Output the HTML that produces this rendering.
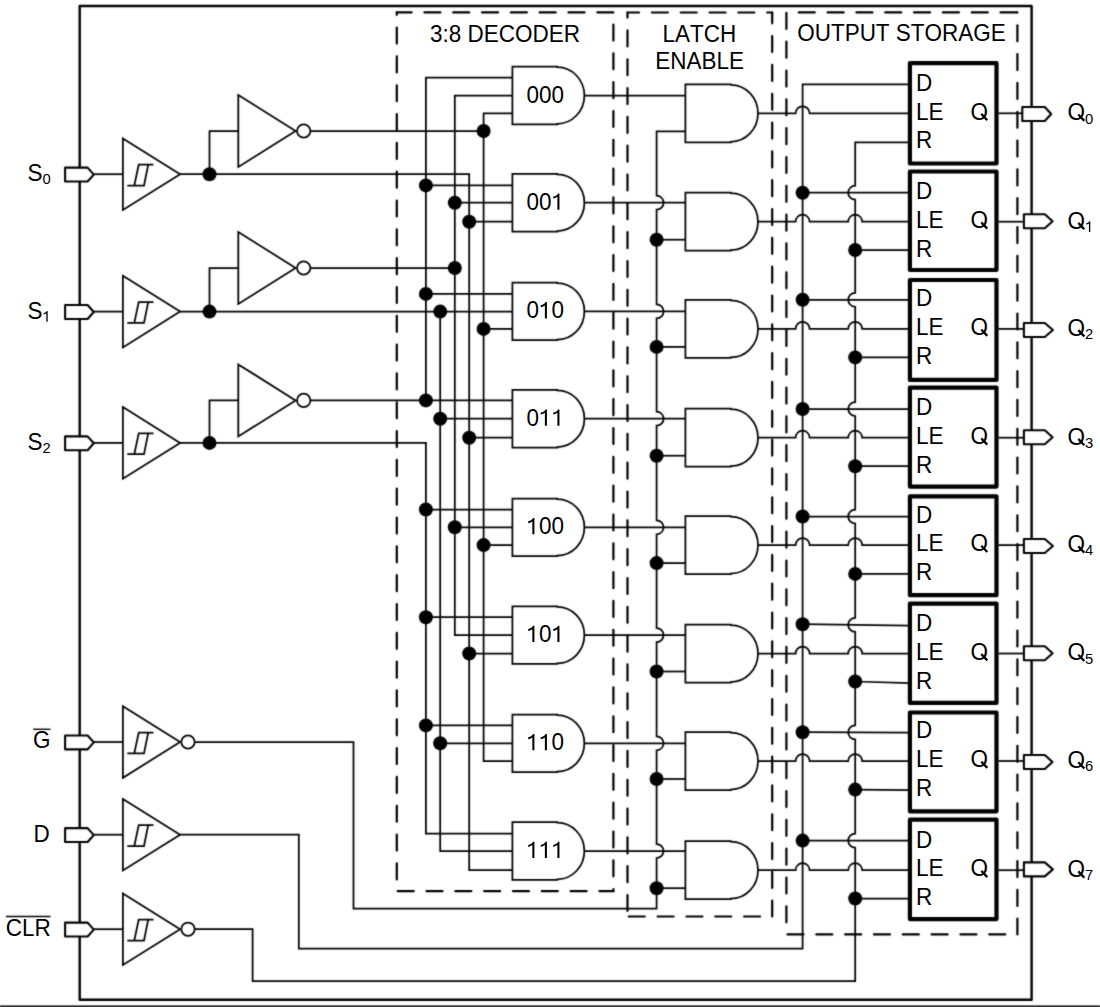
<!DOCTYPE html>
<html><head><meta charset="utf-8"><style>
html,body{margin:0;padding:0;background:#fff;}
svg{display:block;}
.t{font-family:"Liberation Sans",sans-serif;font-size:22.5px;fill:#000;stroke:none;font-kerning:none;}
.sub{font-size:14.8px;}
</style></head><body>
<svg width="1100" height="1007" viewBox="0 0 1100 1007" stroke="#000" stroke-width="1.75" fill="none" stroke-linecap="butt">
<defs><filter id="bl" x="0" y="0" width="1100" height="1007" filterUnits="userSpaceOnUse" color-interpolation-filters="sRGB"><feConvolveMatrix order="3" kernelMatrix="0.0225 0.1050 0.0225 0.1050 0.4900 0.1050 0.0225 0.1050 0.0225" edgeMode="none" preserveAlpha="false"/></filter></defs>
<g filter="url(#bl)">
<rect x="79.7" y="5.95" width="951.9" height="993.85" fill="none" stroke-width="2.4" stroke-linejoin="round"/>
<line x1="0.00" y1="1006.40" x2="1100.00" y2="1006.40" stroke-width="1.6"/>
<line x1="396.80" y1="12.40" x2="613.40" y2="12.40" stroke-width="2.2" stroke-linecap="round" stroke-dasharray="16.00 12.82" stroke-dashoffset="1.20"/>
<line x1="613.40" y1="12.40" x2="613.40" y2="891.20" stroke-width="2.2" stroke-linecap="round" stroke-dasharray="16.00 12.82" stroke-dashoffset="16.67"/>
<line x1="396.80" y1="891.20" x2="613.40" y2="891.20" stroke-width="2.2" stroke-linecap="round" stroke-dasharray="16.00 12.82" stroke-dashoffset="27.92"/>
<line x1="396.80" y1="12.40" x2="396.80" y2="891.20" stroke-width="2.2" stroke-linecap="round" stroke-dasharray="16.00 12.82" stroke-dashoffset="13.62"/>
<line x1="627.50" y1="12.50" x2="772.20" y2="12.50" stroke-width="2.2" stroke-linecap="round" stroke-dasharray="16.00 12.82" stroke-dashoffset="4.42"/>
<line x1="772.20" y1="12.50" x2="772.20" y2="916.50" stroke-width="2.2" stroke-linecap="round" stroke-dasharray="16.00 12.82" stroke-dashoffset="5.20"/>
<line x1="627.50" y1="916.50" x2="772.20" y2="916.50" stroke-width="2.2" stroke-linecap="round" stroke-dasharray="16.00 12.82" stroke-dashoffset="27.52"/>
<line x1="627.50" y1="12.50" x2="627.50" y2="916.50" stroke-width="2.2" stroke-linecap="round" stroke-dasharray="16.00 12.82" stroke-dashoffset="10.90"/>
<line x1="786.40" y1="12.40" x2="1017.40" y2="12.40" stroke-width="2.2" stroke-linecap="round" stroke-dasharray="16.00 12.82" stroke-dashoffset="16.42"/>
<line x1="1017.40" y1="12.40" x2="1017.40" y2="934.40" stroke-width="2.2" stroke-linecap="round" stroke-dasharray="16.00 12.82" stroke-dashoffset="15.92"/>
<line x1="786.40" y1="934.40" x2="1017.40" y2="934.40" stroke-width="2.2" stroke-linecap="round" stroke-dasharray="16.00 12.82" stroke-dashoffset="27.72"/>
<line x1="786.40" y1="12.40" x2="786.40" y2="934.40" stroke-width="2.2" stroke-linecap="round" stroke-dasharray="16.00 12.82" stroke-dashoffset="28.32"/>
<line x1="93.60" y1="174.20" x2="122.90" y2="174.20"/>
<path d="M65.10,167.65 H87.60 L93.80,174.60 L87.60,181.55 H65.10 Z" fill="#fff" stroke-width="2.1" stroke-linejoin="round"/>
<path d="M122.90,138.40 L180.10,174.20 L122.90,210.00 Z" fill="#fff" stroke-linejoin="miter"/>
<polyline points="127.30,185.50 144.00,185.50 148.20,164.70 153.50,164.70"/>
<polyline points="134.30,185.50 138.70,164.70 148.20,164.70"/>
<line x1="93.60" y1="311.60" x2="122.90" y2="311.60"/>
<path d="M65.10,305.05 H87.60 L93.80,312.00 L87.60,318.95 H65.10 Z" fill="#fff" stroke-width="2.1" stroke-linejoin="round"/>
<path d="M122.90,275.80 L180.10,311.60 L122.90,347.40 Z" fill="#fff" stroke-linejoin="miter"/>
<polyline points="127.30,322.90 144.00,322.90 148.20,302.10 153.50,302.10"/>
<polyline points="134.30,322.90 138.70,302.10 148.20,302.10"/>
<line x1="93.60" y1="442.90" x2="122.90" y2="442.90"/>
<path d="M65.10,436.35 H87.60 L93.80,443.30 L87.60,450.25 H65.10 Z" fill="#fff" stroke-width="2.1" stroke-linejoin="round"/>
<path d="M122.90,407.10 L180.10,442.90 L122.90,478.70 Z" fill="#fff" stroke-linejoin="miter"/>
<polyline points="127.30,454.20 144.00,454.20 148.20,433.40 153.50,433.40"/>
<polyline points="134.30,454.20 138.70,433.40 148.20,433.40"/>
<line x1="93.60" y1="742.00" x2="122.90" y2="742.00"/>
<path d="M65.10,735.45 H87.60 L93.80,742.40 L87.60,749.35 H65.10 Z" fill="#fff" stroke-width="2.1" stroke-linejoin="round"/>
<path d="M122.90,706.20 L180.10,742.00 L122.90,777.80 Z" fill="#fff" stroke-linejoin="miter"/>
<polyline points="127.30,753.30 144.00,753.30 148.20,732.50 153.50,732.50"/>
<polyline points="134.30,753.30 138.70,732.50 148.20,732.50"/>
<line x1="93.60" y1="834.70" x2="122.90" y2="834.70"/>
<path d="M65.10,828.15 H87.60 L93.80,835.10 L87.60,842.05 H65.10 Z" fill="#fff" stroke-width="2.1" stroke-linejoin="round"/>
<path d="M122.90,798.90 L180.10,834.70 L122.90,870.50 Z" fill="#fff" stroke-linejoin="miter"/>
<polyline points="127.30,846.00 144.00,846.00 148.20,825.20 153.50,825.20"/>
<polyline points="134.30,846.00 138.70,825.20 148.20,825.20"/>
<line x1="93.60" y1="929.20" x2="122.90" y2="929.20"/>
<path d="M65.10,922.65 H87.60 L93.80,929.60 L87.60,936.55 H65.10 Z" fill="#fff" stroke-width="2.1" stroke-linejoin="round"/>
<path d="M122.90,893.40 L180.10,929.20 L122.90,965.00 Z" fill="#fff" stroke-linejoin="miter"/>
<polyline points="127.30,940.50 144.00,940.50 148.20,919.70 153.50,919.70"/>
<polyline points="134.30,940.50 138.70,919.70 148.20,919.70"/>
<polyline points="209.50,174.20 209.50,131.00 238.30,131.00"/>
<path d="M238.30,95.00 L295.60,131.00 L238.30,167.00 Z" fill="#fff" stroke-linejoin="miter"/>
<circle cx="303.70" cy="131.00" r="6.7" fill="#fff"/>
<circle cx="209.50" cy="174.20" r="7.0" fill="#000" stroke="none"/>
<polyline points="209.50,311.60 209.50,268.00 238.30,268.00"/>
<path d="M238.30,232.00 L295.60,268.00 L238.30,304.00 Z" fill="#fff" stroke-linejoin="miter"/>
<circle cx="303.70" cy="268.00" r="6.7" fill="#fff"/>
<circle cx="209.50" cy="311.60" r="7.0" fill="#000" stroke="none"/>
<polyline points="209.50,442.90 209.50,400.40 238.30,400.40"/>
<path d="M238.30,364.40 L295.60,400.40 L238.30,436.40 Z" fill="#fff" stroke-linejoin="miter"/>
<circle cx="303.70" cy="400.40" r="6.7" fill="#fff"/>
<circle cx="209.50" cy="442.90" r="7.0" fill="#000" stroke="none"/>
<circle cx="188.00" cy="742.00" r="6.7" fill="#fff"/>
<circle cx="188.00" cy="929.20" r="6.7" fill="#fff"/>
<polyline points="180.10,174.20 469.20,174.20 469.20,870.20 512.40,870.20"/>
<line x1="310.40" y1="131.00" x2="483.60" y2="131.00"/>
<circle cx="483.60" cy="131.00" r="7.0" fill="#000" stroke="none"/>
<polyline points="512.40,113.30 483.60,113.30 483.60,761.00 512.40,761.00"/>
<line x1="180.10" y1="311.60" x2="512.40" y2="311.60"/>
<polyline points="440.20,311.60 440.20,851.00 512.40,851.00"/>
<circle cx="440.20" cy="311.60" r="7.0" fill="#000" stroke="none"/>
<line x1="310.40" y1="268.00" x2="454.80" y2="268.00"/>
<circle cx="454.80" cy="268.00" r="7.0" fill="#000" stroke="none"/>
<polyline points="512.40,95.50 454.80,95.50 454.80,635.10 512.40,635.10"/>
<polyline points="180.10,442.90 425.90,442.90 425.90,833.50 512.40,833.50"/>
<line x1="310.40" y1="400.40" x2="512.40" y2="400.40"/>
<circle cx="425.90" cy="400.40" r="7.0" fill="#000" stroke="none"/>
<polyline points="512.40,77.50 425.90,77.50 425.90,400.40"/>
<line x1="425.90" y1="185.40" x2="512.40" y2="185.40"/>
<circle cx="425.90" cy="185.40" r="7.0" fill="#000" stroke="none"/>
<line x1="454.80" y1="202.70" x2="512.40" y2="202.70"/>
<circle cx="454.80" cy="202.70" r="7.0" fill="#000" stroke="none"/>
<line x1="469.20" y1="221.70" x2="512.40" y2="221.70"/>
<circle cx="469.20" cy="221.70" r="7.0" fill="#000" stroke="none"/>
<line x1="425.90" y1="293.90" x2="512.40" y2="293.90"/>
<circle cx="425.90" cy="293.90" r="7.0" fill="#000" stroke="none"/>
<line x1="483.60" y1="328.90" x2="512.40" y2="328.90"/>
<circle cx="483.60" cy="328.90" r="7.0" fill="#000" stroke="none"/>
<line x1="440.20" y1="418.70" x2="512.40" y2="418.70"/>
<circle cx="440.20" cy="418.70" r="7.0" fill="#000" stroke="none"/>
<line x1="469.20" y1="437.70" x2="512.40" y2="437.70"/>
<circle cx="469.20" cy="437.70" r="7.0" fill="#000" stroke="none"/>
<line x1="425.90" y1="509.50" x2="512.40" y2="509.50"/>
<circle cx="425.90" cy="509.50" r="7.0" fill="#000" stroke="none"/>
<line x1="454.80" y1="527.30" x2="512.40" y2="527.30"/>
<circle cx="454.80" cy="527.30" r="7.0" fill="#000" stroke="none"/>
<line x1="483.60" y1="545.10" x2="512.40" y2="545.10"/>
<circle cx="483.60" cy="545.10" r="7.0" fill="#000" stroke="none"/>
<line x1="425.90" y1="617.20" x2="512.40" y2="617.20"/>
<circle cx="425.90" cy="617.20" r="7.0" fill="#000" stroke="none"/>
<line x1="469.20" y1="653.50" x2="512.40" y2="653.50"/>
<circle cx="469.20" cy="653.50" r="7.0" fill="#000" stroke="none"/>
<line x1="425.90" y1="725.40" x2="512.40" y2="725.40"/>
<circle cx="425.90" cy="725.40" r="7.0" fill="#000" stroke="none"/>
<line x1="440.20" y1="743.30" x2="512.40" y2="743.30"/>
<circle cx="440.20" cy="743.30" r="7.0" fill="#000" stroke="none"/>
<path d="M557.30,66.70 H512.40 V124.30 H557.30 V123.80 A27.10,28.30 0 0 0 557.30,67.20 Z" fill="#fff"/>
<path d="M557.30,173.90 H512.40 V231.50 H557.30 V231.00 A27.10,28.30 0 0 0 557.30,174.40 Z" fill="#fff"/>
<path d="M557.30,282.60 H512.40 V340.20 H557.30 V339.70 A27.10,28.30 0 0 0 557.30,283.10 Z" fill="#fff"/>
<path d="M557.30,389.90 H512.40 V447.50 H557.30 V447.00 A27.10,28.30 0 0 0 557.30,390.40 Z" fill="#fff"/>
<path d="M557.30,498.50 H512.40 V556.10 H557.30 V555.60 A27.10,28.30 0 0 0 557.30,499.00 Z" fill="#fff"/>
<path d="M557.30,606.30 H512.40 V663.90 H557.30 V663.40 A27.10,28.30 0 0 0 557.30,606.80 Z" fill="#fff"/>
<path d="M557.30,714.50 H512.40 V772.10 H557.30 V771.60 A27.10,28.30 0 0 0 557.30,715.00 Z" fill="#fff"/>
<path d="M557.30,822.20 H512.40 V879.80 H557.30 V879.30 A27.10,28.30 0 0 0 557.30,822.70 Z" fill="#fff"/>
<line x1="584.40" y1="95.50" x2="685.40" y2="95.50"/>
<line x1="584.40" y1="202.70" x2="685.40" y2="202.70"/>
<line x1="584.40" y1="311.40" x2="685.40" y2="311.40"/>
<line x1="584.40" y1="418.70" x2="685.40" y2="418.70"/>
<line x1="584.40" y1="527.30" x2="685.40" y2="527.30"/>
<line x1="584.40" y1="635.10" x2="685.40" y2="635.10"/>
<line x1="584.40" y1="743.30" x2="685.40" y2="743.30"/>
<line x1="584.40" y1="851.00" x2="685.40" y2="851.00"/>
<path d="M194.7,742.00 H353.5 V908.6 H656.6 V858.00 A7.0,7.0 0 0 0 656.6,844.00 V750.30 A7.0,7.0 0 0 0 656.6,736.30 V642.10 A7.0,7.0 0 0 0 656.6,628.10 V534.30 A7.0,7.0 0 0 0 656.6,520.30 V425.70 A7.0,7.0 0 0 0 656.6,411.70 V318.40 A7.0,7.0 0 0 0 656.6,304.40 V209.70 A7.0,7.0 0 0 0 656.6,195.70 V131.30 H685.4" fill="none"/>
<line x1="656.60" y1="239.70" x2="685.40" y2="239.70"/>
<circle cx="656.60" cy="239.70" r="7.0" fill="#000" stroke="none"/>
<line x1="656.60" y1="346.90" x2="685.40" y2="346.90"/>
<circle cx="656.60" cy="346.90" r="7.0" fill="#000" stroke="none"/>
<line x1="656.60" y1="455.70" x2="685.40" y2="455.70"/>
<circle cx="656.60" cy="455.70" r="7.0" fill="#000" stroke="none"/>
<line x1="656.60" y1="563.10" x2="685.40" y2="563.10"/>
<circle cx="656.60" cy="563.10" r="7.0" fill="#000" stroke="none"/>
<line x1="656.60" y1="671.50" x2="685.40" y2="671.50"/>
<circle cx="656.60" cy="671.50" r="7.0" fill="#000" stroke="none"/>
<line x1="656.60" y1="779.00" x2="685.40" y2="779.00"/>
<circle cx="656.60" cy="779.00" r="7.0" fill="#000" stroke="none"/>
<line x1="656.60" y1="888.20" x2="685.40" y2="888.20"/>
<circle cx="656.60" cy="888.20" r="7.0" fill="#000" stroke="none"/>
<path d="M730.80,84.30 H685.40 V142.30 H730.80 V141.80 A27.20,28.50 0 0 0 730.80,84.80 Z" fill="#fff"/>
<path d="M730.80,192.70 H685.40 V250.70 H730.80 V250.20 A27.20,28.50 0 0 0 730.80,193.20 Z" fill="#fff"/>
<path d="M730.80,299.90 H685.40 V357.90 H730.80 V357.40 A27.20,28.50 0 0 0 730.80,300.40 Z" fill="#fff"/>
<path d="M730.80,408.70 H685.40 V466.70 H730.80 V466.20 A27.20,28.50 0 0 0 730.80,409.20 Z" fill="#fff"/>
<path d="M730.80,516.10 H685.40 V574.10 H730.80 V573.60 A27.20,28.50 0 0 0 730.80,516.60 Z" fill="#fff"/>
<path d="M730.80,624.50 H685.40 V682.50 H730.80 V682.00 A27.20,28.50 0 0 0 730.80,625.00 Z" fill="#fff"/>
<path d="M730.80,732.00 H685.40 V790.00 H730.80 V789.50 A27.20,28.50 0 0 0 730.80,732.50 Z" fill="#fff"/>
<path d="M730.80,841.20 H685.40 V899.20 H730.80 V898.70 A27.20,28.50 0 0 0 730.80,841.70 Z" fill="#fff"/>
<path d="M758.0,113.30 H795.60 A7.0,7.0 0 0 1 809.60,113.30 H909.9" fill="none"/>
<path d="M758.0,221.70 H795.60 A7.0,7.0 0 0 1 809.60,221.70 H848.20 A7.0,7.0 0 0 1 862.20,221.70 H909.9" fill="none"/>
<path d="M758.0,328.90 H795.60 A7.0,7.0 0 0 1 809.60,328.90 H848.20 A7.0,7.0 0 0 1 862.20,328.90 H909.9" fill="none"/>
<path d="M758.0,437.70 H795.60 A7.0,7.0 0 0 1 809.60,437.70 H848.20 A7.0,7.0 0 0 1 862.20,437.70 H909.9" fill="none"/>
<path d="M758.0,545.10 H795.60 A7.0,7.0 0 0 1 809.60,545.10 H848.20 A7.0,7.0 0 0 1 862.20,545.10 H909.9" fill="none"/>
<path d="M758.0,653.50 H795.60 A7.0,7.0 0 0 1 809.60,653.50 H848.20 A7.0,7.0 0 0 1 862.20,653.50 H909.9" fill="none"/>
<path d="M758.0,761.00 H795.60 A7.0,7.0 0 0 1 809.60,761.00 H848.20 A7.0,7.0 0 0 1 862.20,761.00 H909.9" fill="none"/>
<path d="M758.0,870.20 H795.60 A7.0,7.0 0 0 1 809.60,870.20 H848.20 A7.0,7.0 0 0 1 862.20,870.20 H909.9" fill="none"/>
<path d="M180.1,834.70 H298.8 V948.5 H802.6 V84.40 H909.9" fill="none"/>
<line x1="802.60" y1="192.70" x2="909.90" y2="192.70"/>
<circle cx="802.60" cy="192.70" r="7.0" fill="#000" stroke="none"/>
<line x1="802.60" y1="299.80" x2="909.90" y2="299.80"/>
<circle cx="802.60" cy="299.80" r="7.0" fill="#000" stroke="none"/>
<line x1="802.60" y1="409.00" x2="909.90" y2="409.00"/>
<circle cx="802.60" cy="409.00" r="7.0" fill="#000" stroke="none"/>
<line x1="802.60" y1="516.50" x2="909.90" y2="516.50"/>
<circle cx="802.60" cy="516.50" r="7.0" fill="#000" stroke="none"/>
<line x1="802.60" y1="624.20" x2="909.90" y2="625.60"/>
<circle cx="802.60" cy="624.20" r="7.0" fill="#000" stroke="none"/>
<line x1="802.60" y1="732.20" x2="909.90" y2="732.50"/>
<circle cx="802.60" cy="732.20" r="7.0" fill="#000" stroke="none"/>
<line x1="802.60" y1="840.60" x2="909.90" y2="840.60"/>
<circle cx="802.60" cy="840.60" r="7.0" fill="#000" stroke="none"/>
<path d="M194.7,929.20 H252.6 V981.0 H855.2 V847.60 A7.0,7.0 0 0 1 855.2,833.60 V739.35 A7.0,7.0 0 0 1 855.2,725.35 V631.89 A7.0,7.0 0 0 1 855.2,617.89 V523.50 A7.0,7.0 0 0 1 855.2,509.50 V416.00 A7.0,7.0 0 0 1 855.2,402.00 V306.80 A7.0,7.0 0 0 1 855.2,292.80 V199.70 A7.0,7.0 0 0 1 855.2,185.70 V142.30 H909.9" fill="none"/>
<line x1="855.20" y1="250.00" x2="909.90" y2="250.00"/>
<circle cx="855.20" cy="250.00" r="7.0" fill="#000" stroke="none"/>
<line x1="855.20" y1="357.40" x2="909.90" y2="357.40"/>
<circle cx="855.20" cy="357.40" r="7.0" fill="#000" stroke="none"/>
<line x1="855.20" y1="466.20" x2="909.90" y2="466.20"/>
<circle cx="855.20" cy="466.20" r="7.0" fill="#000" stroke="none"/>
<line x1="855.20" y1="573.90" x2="909.90" y2="573.90"/>
<circle cx="855.20" cy="573.90" r="7.0" fill="#000" stroke="none"/>
<line x1="855.20" y1="681.50" x2="909.90" y2="683.10"/>
<circle cx="855.20" cy="681.50" r="7.0" fill="#000" stroke="none"/>
<line x1="855.20" y1="789.60" x2="909.90" y2="790.10"/>
<circle cx="855.20" cy="789.60" r="7.0" fill="#000" stroke="none"/>
<line x1="855.20" y1="898.50" x2="909.90" y2="898.50"/>
<circle cx="855.20" cy="898.50" r="7.0" fill="#000" stroke="none"/>
<rect x="909.9" y="63.10" width="86.60" height="100.40" fill="#fff" stroke-width="4.2" stroke-linejoin="round"/>
<line x1="998.50" y1="113.30" x2="1022.30" y2="113.30"/>
<path d="M1022.30,107.00 H1044.80 L1051.20,114.00 L1044.80,121.00 H1022.30 Z" fill="#fff" stroke-width="2.1" stroke-linejoin="round"/>
<rect x="909.9" y="171.50" width="86.60" height="98.50" fill="#fff" stroke-width="4.2" stroke-linejoin="round"/>
<line x1="998.50" y1="221.70" x2="1023.90" y2="221.70"/>
<path d="M1023.90,214.20 H1044.80 L1052.60,221.20 L1044.80,228.20 H1023.90 Z" fill="#fff" stroke-width="2.1" stroke-linejoin="round"/>
<rect x="909.9" y="280.00" width="86.60" height="99.90" fill="#fff" stroke-width="4.2" stroke-linejoin="round"/>
<line x1="998.50" y1="328.90" x2="1023.90" y2="328.90"/>
<path d="M1023.90,323.00 H1044.80 L1052.90,330.00 L1044.80,337.00 H1023.90 Z" fill="#fff" stroke-width="2.1" stroke-linejoin="round"/>
<rect x="909.9" y="387.60" width="86.60" height="99.00" fill="#fff" stroke-width="4.2" stroke-linejoin="round"/>
<line x1="998.50" y1="437.70" x2="1023.90" y2="437.70"/>
<path d="M1023.90,430.20 H1044.80 L1052.60,437.20 L1044.80,444.20 H1023.90 Z" fill="#fff" stroke-width="2.1" stroke-linejoin="round"/>
<rect x="909.9" y="496.30" width="86.60" height="98.90" fill="#fff" stroke-width="4.2" stroke-linejoin="round"/>
<line x1="998.50" y1="545.10" x2="1023.90" y2="545.10"/>
<path d="M1023.90,539.00 H1044.80 L1052.90,546.00 L1044.80,553.00 H1023.90 Z" fill="#fff" stroke-width="2.1" stroke-linejoin="round"/>
<rect x="909.9" y="603.60" width="86.60" height="99.30" fill="#fff" stroke-width="4.2" stroke-linejoin="round"/>
<line x1="998.50" y1="653.50" x2="1023.90" y2="653.50"/>
<path d="M1023.90,646.20 H1044.80 L1052.60,653.20 L1044.80,660.20 H1023.90 Z" fill="#fff" stroke-width="2.1" stroke-linejoin="round"/>
<rect x="909.9" y="712.50" width="86.60" height="98.80" fill="#fff" stroke-width="4.2" stroke-linejoin="round"/>
<line x1="998.50" y1="761.00" x2="1023.90" y2="761.00"/>
<path d="M1023.90,755.00 H1044.80 L1052.50,762.00 L1044.80,769.00 H1023.90 Z" fill="#fff" stroke-width="2.1" stroke-linejoin="round"/>
<rect x="909.9" y="819.70" width="86.60" height="99.40" fill="#fff" stroke-width="4.2" stroke-linejoin="round"/>
<line x1="998.50" y1="870.20" x2="1023.90" y2="870.20"/>
<path d="M1023.90,862.40 H1044.80 L1052.90,869.40 L1044.80,876.40 H1023.90 Z" fill="#fff" stroke-width="2.1" stroke-linejoin="round"/>
<line x1="33.20" y1="729.30" x2="50.50" y2="729.30" stroke-width="1.4"/>
<line x1="5.90" y1="916.60" x2="50.50" y2="916.60" stroke-width="1.5"/>
</g>
<text transform="translate(526.53,102.50) scale(1,1.05)" class="t">0</text>
<text transform="translate(539.04,102.50) scale(1,1.05)" class="t">0</text>
<text transform="translate(551.56,102.50) scale(1,1.05)" class="t">0</text>
<text transform="translate(526.53,209.70) scale(1,1.05)" class="t">0</text>
<text transform="translate(539.04,209.70) scale(1,1.05)" class="t">0</text>
<path transform="translate(551.56,209.70) scale(22.5,23.625)" d="M0.350,0 L0.350,-0.69 L0.291,-0.69 C0.265,-0.625 0.18,-0.575 0.075,-0.555 L0.075,-0.47 C0.15,-0.485 0.215,-0.51 0.259,-0.545 L0.259,0 Z" fill="#000" stroke="none"/>
<text transform="translate(526.53,318.40) scale(1,1.05)" class="t">0</text>
<path transform="translate(539.04,318.40) scale(22.5,23.625)" d="M0.350,0 L0.350,-0.69 L0.291,-0.69 C0.265,-0.625 0.18,-0.575 0.075,-0.555 L0.075,-0.47 C0.15,-0.485 0.215,-0.51 0.259,-0.545 L0.259,0 Z" fill="#000" stroke="none"/>
<text transform="translate(551.56,318.40) scale(1,1.05)" class="t">0</text>
<text transform="translate(526.53,425.70) scale(1,1.05)" class="t">0</text>
<path transform="translate(539.04,425.70) scale(22.5,23.625)" d="M0.350,0 L0.350,-0.69 L0.291,-0.69 C0.265,-0.625 0.18,-0.575 0.075,-0.555 L0.075,-0.47 C0.15,-0.485 0.215,-0.51 0.259,-0.545 L0.259,0 Z" fill="#000" stroke="none"/>
<path transform="translate(551.56,425.70) scale(22.5,23.625)" d="M0.350,0 L0.350,-0.69 L0.291,-0.69 C0.265,-0.625 0.18,-0.575 0.075,-0.555 L0.075,-0.47 C0.15,-0.485 0.215,-0.51 0.259,-0.545 L0.259,0 Z" fill="#000" stroke="none"/>
<path transform="translate(526.53,534.30) scale(22.5,23.625)" d="M0.350,0 L0.350,-0.69 L0.291,-0.69 C0.265,-0.625 0.18,-0.575 0.075,-0.555 L0.075,-0.47 C0.15,-0.485 0.215,-0.51 0.259,-0.545 L0.259,0 Z" fill="#000" stroke="none"/>
<text transform="translate(539.04,534.30) scale(1,1.05)" class="t">0</text>
<text transform="translate(551.56,534.30) scale(1,1.05)" class="t">0</text>
<path transform="translate(526.53,642.10) scale(22.5,23.625)" d="M0.350,0 L0.350,-0.69 L0.291,-0.69 C0.265,-0.625 0.18,-0.575 0.075,-0.555 L0.075,-0.47 C0.15,-0.485 0.215,-0.51 0.259,-0.545 L0.259,0 Z" fill="#000" stroke="none"/>
<text transform="translate(539.04,642.10) scale(1,1.05)" class="t">0</text>
<path transform="translate(551.56,642.10) scale(22.5,23.625)" d="M0.350,0 L0.350,-0.69 L0.291,-0.69 C0.265,-0.625 0.18,-0.575 0.075,-0.555 L0.075,-0.47 C0.15,-0.485 0.215,-0.51 0.259,-0.545 L0.259,0 Z" fill="#000" stroke="none"/>
<path transform="translate(526.53,750.30) scale(22.5,23.625)" d="M0.350,0 L0.350,-0.69 L0.291,-0.69 C0.265,-0.625 0.18,-0.575 0.075,-0.555 L0.075,-0.47 C0.15,-0.485 0.215,-0.51 0.259,-0.545 L0.259,0 Z" fill="#000" stroke="none"/>
<path transform="translate(539.04,750.30) scale(22.5,23.625)" d="M0.350,0 L0.350,-0.69 L0.291,-0.69 C0.265,-0.625 0.18,-0.575 0.075,-0.555 L0.075,-0.47 C0.15,-0.485 0.215,-0.51 0.259,-0.545 L0.259,0 Z" fill="#000" stroke="none"/>
<text transform="translate(551.56,750.30) scale(1,1.05)" class="t">0</text>
<path transform="translate(526.53,858.00) scale(22.5,23.625)" d="M0.350,0 L0.350,-0.69 L0.291,-0.69 C0.265,-0.625 0.18,-0.575 0.075,-0.555 L0.075,-0.47 C0.15,-0.485 0.215,-0.51 0.259,-0.545 L0.259,0 Z" fill="#000" stroke="none"/>
<path transform="translate(539.04,858.00) scale(22.5,23.625)" d="M0.350,0 L0.350,-0.69 L0.291,-0.69 C0.265,-0.625 0.18,-0.575 0.075,-0.555 L0.075,-0.47 C0.15,-0.485 0.215,-0.51 0.259,-0.545 L0.259,0 Z" fill="#000" stroke="none"/>
<path transform="translate(551.56,858.00) scale(22.5,23.625)" d="M0.350,0 L0.350,-0.69 L0.291,-0.69 C0.265,-0.625 0.18,-0.575 0.075,-0.555 L0.075,-0.47 C0.15,-0.485 0.215,-0.51 0.259,-0.545 L0.259,0 Z" fill="#000" stroke="none"/>
<text transform="translate(916.00,90.70) scale(1,1.05)" class="t">D</text>
<text transform="translate(916.00,119.50) scale(1,1.05)" class="t">LE</text>
<text transform="translate(970.40,119.50) scale(1,1.05)" class="t">O</text>
<path transform="translate(970.40,119.50) scale(22.5,23.625)" d="M0.4486,-0.2006 L0.7156,0.0664 L0.7864,-0.0044 L0.5194,-0.2714 Z" fill="#000" stroke="none"/>
<text transform="translate(916.00,148.30) scale(1,1.05)" class="t">R</text>
<text transform="translate(1067.40,120.10) scale(1,1.05)" class="t">O</text>
<path transform="translate(1067.40,120.10) scale(22.5,23.625)" d="M0.4486,-0.2006 L0.7156,0.0664 L0.7864,-0.0044 L0.5194,-0.2714 Z" fill="#000" stroke="none"/>
<text transform="translate(1085.10,123.50) scale(1,1.05)" class="t sub">0</text>
<text transform="translate(916.00,199.10) scale(1,1.05)" class="t">D</text>
<text transform="translate(916.00,227.90) scale(1,1.05)" class="t">LE</text>
<text transform="translate(970.40,227.90) scale(1,1.05)" class="t">O</text>
<path transform="translate(970.40,227.90) scale(22.5,23.625)" d="M0.4486,-0.2006 L0.7156,0.0664 L0.7864,-0.0044 L0.5194,-0.2714 Z" fill="#000" stroke="none"/>
<text transform="translate(916.00,256.70) scale(1,1.05)" class="t">R</text>
<text transform="translate(1067.40,228.50) scale(1,1.05)" class="t">O</text>
<path transform="translate(1067.40,228.50) scale(22.5,23.625)" d="M0.4486,-0.2006 L0.7156,0.0664 L0.7864,-0.0044 L0.5194,-0.2714 Z" fill="#000" stroke="none"/>
<path transform="translate(1085.10,231.90) scale(14.8,15.540)" d="M0.350,0 L0.350,-0.69 L0.291,-0.69 C0.265,-0.625 0.18,-0.575 0.075,-0.555 L0.075,-0.47 C0.15,-0.485 0.215,-0.51 0.259,-0.545 L0.259,0 Z" fill="#000" stroke="none"/>
<text transform="translate(916.00,306.30) scale(1,1.05)" class="t">D</text>
<text transform="translate(916.00,335.10) scale(1,1.05)" class="t">LE</text>
<text transform="translate(970.40,335.10) scale(1,1.05)" class="t">O</text>
<path transform="translate(970.40,335.10) scale(22.5,23.625)" d="M0.4486,-0.2006 L0.7156,0.0664 L0.7864,-0.0044 L0.5194,-0.2714 Z" fill="#000" stroke="none"/>
<text transform="translate(916.00,363.90) scale(1,1.05)" class="t">R</text>
<text transform="translate(1067.40,335.70) scale(1,1.05)" class="t">O</text>
<path transform="translate(1067.40,335.70) scale(22.5,23.625)" d="M0.4486,-0.2006 L0.7156,0.0664 L0.7864,-0.0044 L0.5194,-0.2714 Z" fill="#000" stroke="none"/>
<text transform="translate(1085.10,339.10) scale(1,1.05)" class="t sub">2</text>
<text transform="translate(916.00,415.10) scale(1,1.05)" class="t">D</text>
<text transform="translate(916.00,443.90) scale(1,1.05)" class="t">LE</text>
<text transform="translate(970.40,443.90) scale(1,1.05)" class="t">O</text>
<path transform="translate(970.40,443.90) scale(22.5,23.625)" d="M0.4486,-0.2006 L0.7156,0.0664 L0.7864,-0.0044 L0.5194,-0.2714 Z" fill="#000" stroke="none"/>
<text transform="translate(916.00,472.70) scale(1,1.05)" class="t">R</text>
<text transform="translate(1067.40,444.50) scale(1,1.05)" class="t">O</text>
<path transform="translate(1067.40,444.50) scale(22.5,23.625)" d="M0.4486,-0.2006 L0.7156,0.0664 L0.7864,-0.0044 L0.5194,-0.2714 Z" fill="#000" stroke="none"/>
<text transform="translate(1085.10,447.90) scale(1,1.05)" class="t sub">3</text>
<text transform="translate(916.00,522.50) scale(1,1.05)" class="t">D</text>
<text transform="translate(916.00,551.30) scale(1,1.05)" class="t">LE</text>
<text transform="translate(970.40,551.30) scale(1,1.05)" class="t">O</text>
<path transform="translate(970.40,551.30) scale(22.5,23.625)" d="M0.4486,-0.2006 L0.7156,0.0664 L0.7864,-0.0044 L0.5194,-0.2714 Z" fill="#000" stroke="none"/>
<text transform="translate(916.00,580.10) scale(1,1.05)" class="t">R</text>
<text transform="translate(1067.40,551.90) scale(1,1.05)" class="t">O</text>
<path transform="translate(1067.40,551.90) scale(22.5,23.625)" d="M0.4486,-0.2006 L0.7156,0.0664 L0.7864,-0.0044 L0.5194,-0.2714 Z" fill="#000" stroke="none"/>
<text transform="translate(1085.10,555.30) scale(1,1.05)" class="t sub">4</text>
<text transform="translate(916.00,630.90) scale(1,1.05)" class="t">D</text>
<text transform="translate(916.00,659.70) scale(1,1.05)" class="t">LE</text>
<text transform="translate(970.40,659.70) scale(1,1.05)" class="t">O</text>
<path transform="translate(970.40,659.70) scale(22.5,23.625)" d="M0.4486,-0.2006 L0.7156,0.0664 L0.7864,-0.0044 L0.5194,-0.2714 Z" fill="#000" stroke="none"/>
<text transform="translate(916.00,688.50) scale(1,1.05)" class="t">R</text>
<text transform="translate(1067.40,660.30) scale(1,1.05)" class="t">O</text>
<path transform="translate(1067.40,660.30) scale(22.5,23.625)" d="M0.4486,-0.2006 L0.7156,0.0664 L0.7864,-0.0044 L0.5194,-0.2714 Z" fill="#000" stroke="none"/>
<text transform="translate(1085.10,663.70) scale(1,1.05)" class="t sub">5</text>
<text transform="translate(916.00,738.40) scale(1,1.05)" class="t">D</text>
<text transform="translate(916.00,767.20) scale(1,1.05)" class="t">LE</text>
<text transform="translate(970.40,767.20) scale(1,1.05)" class="t">O</text>
<path transform="translate(970.40,767.20) scale(22.5,23.625)" d="M0.4486,-0.2006 L0.7156,0.0664 L0.7864,-0.0044 L0.5194,-0.2714 Z" fill="#000" stroke="none"/>
<text transform="translate(916.00,796.00) scale(1,1.05)" class="t">R</text>
<text transform="translate(1067.40,767.80) scale(1,1.05)" class="t">O</text>
<path transform="translate(1067.40,767.80) scale(22.5,23.625)" d="M0.4486,-0.2006 L0.7156,0.0664 L0.7864,-0.0044 L0.5194,-0.2714 Z" fill="#000" stroke="none"/>
<text transform="translate(1085.10,771.20) scale(1,1.05)" class="t sub">6</text>
<text transform="translate(916.00,847.60) scale(1,1.05)" class="t">D</text>
<text transform="translate(916.00,876.40) scale(1,1.05)" class="t">LE</text>
<text transform="translate(970.40,876.40) scale(1,1.05)" class="t">O</text>
<path transform="translate(970.40,876.40) scale(22.5,23.625)" d="M0.4486,-0.2006 L0.7156,0.0664 L0.7864,-0.0044 L0.5194,-0.2714 Z" fill="#000" stroke="none"/>
<text transform="translate(916.00,905.20) scale(1,1.05)" class="t">R</text>
<text transform="translate(1067.40,877.00) scale(1,1.05)" class="t">O</text>
<path transform="translate(1067.40,877.00) scale(22.5,23.625)" d="M0.4486,-0.2006 L0.7156,0.0664 L0.7864,-0.0044 L0.5194,-0.2714 Z" fill="#000" stroke="none"/>
<text transform="translate(1085.10,880.40) scale(1,1.05)" class="t sub">7</text>
<text transform="translate(430.10,42.40) scale(1,1.05)" class="t">3:8 DECODER</text>
<text transform="translate(662.50,41.70) scale(1,1.05)" class="t">LATCH</text>
<text transform="translate(655.20,68.80) scale(1,1.05)" class="t">ENABLE</text>
<text transform="translate(797.20,40.60) scale(1,1.05)" class="t">OUTPUT STORAGE</text>
<text transform="translate(27.50,181.40) scale(1,1.05)" class="t">S</text>
<text transform="translate(42.50,184.40) scale(1,1.05)" class="t sub">0</text>
<text transform="translate(27.50,318.80) scale(1,1.05)" class="t">S</text>
<path transform="translate(42.50,321.80) scale(14.8,15.540)" d="M0.350,0 L0.350,-0.69 L0.291,-0.69 C0.265,-0.625 0.18,-0.575 0.075,-0.555 L0.075,-0.47 C0.15,-0.485 0.215,-0.51 0.259,-0.545 L0.259,0 Z" fill="#000" stroke="none"/>
<text transform="translate(27.50,450.10) scale(1,1.05)" class="t">S</text>
<text transform="translate(42.50,453.10) scale(1,1.05)" class="t sub">2</text>
<text transform="translate(32.90,748.30) scale(1,1.05)" class="t">G</text>
<text transform="translate(33.60,841.70) scale(1,1.05)" class="t">D</text>
<text transform="translate(5.70,935.80) scale(1,1.05)" class="t">CLR</text>
</svg></body></html>
